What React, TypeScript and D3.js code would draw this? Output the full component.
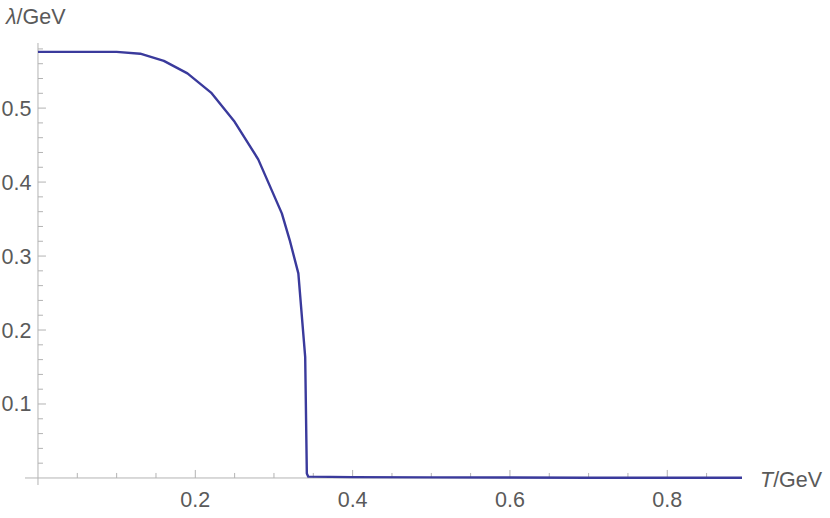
import React from "react";
import * as d3 from "d3";

const T_VALUES = [0, 0.1, 0.13, 0.16, 0.19, 0.22, 0.25, 0.28, 0.31, 0.32, 0.331, 0.3397, 0.3418, 0.3436, 0.4, 0.5, 0.6, 0.7, 0.8, 0.895];
const LAMBDA_VALUES = [0.576, 0.576, 0.5735, 0.5638, 0.547, 0.521, 0.4815, 0.4307, 0.3577, 0.3216, 0.2766, 0.1635, 0.006, 0.0018, 0.0012, 0.0008, 0.0006, 0.0004, 0.0003, 0.0002];
const X_MAJOR = [0.2, 0.4, 0.6, 0.8];
const Y_MAJOR = [0.1, 0.2, 0.3, 0.4, 0.5];
const X_DOMAIN = [-0.0165, 0.895];
const Y_DOMAIN = [-0.0095, 0.588];

const W = 830;
const H = 518;
const FONT = "'Liberation Sans', Arial, sans-serif";
const FS = 21.5;

export default function App() {
  const x = d3.scaleLinear().domain(X_DOMAIN).range([25, 742]);
  const y = d3.scaleLinear().domain(Y_DOMAIN).range([485, 43]);
  const x0 = x(0);
  const y0 = y(0);
  const data = T_VALUES.map((t, i) => [t, LAMBDA_VALUES[i]] as [number, number]);
  const line = d3.line<[number, number]>().x((d) => x(d[0])).y((d) => y(d[1]));
  const xMinor = d3.range(1, 18).map((i) => i * 0.05).filter((v) => !X_MAJOR.some((m) => Math.abs(m - v) < 1e-6));
  const yMinor = d3.range(1, 30).map((i) => i * 0.02).filter((v) => v <= Y_DOMAIN[1] && !Y_MAJOR.some((m) => Math.abs(m - v) < 1e-6));
  const axisColor = "#b3b3b3";
  const textColor = "#5a5a5a";
  return (
    <svg width={W} height={H} style={{ position: "absolute", left: 0, top: 0, background: "#fff" }}>
      <rect x={0} y={0} width={W} height={H} fill="#fff" />
      <line x1={x(X_DOMAIN[0])} x2={x(X_DOMAIN[1])} y1={y0} y2={y0} stroke={axisColor} strokeWidth={1} />
      <line x1={x0} x2={x0} y1={y(Y_DOMAIN[0])} y2={y(Y_DOMAIN[1])} stroke={axisColor} strokeWidth={1} />
      {X_MAJOR.map((v) => (
        <g key={"xm" + v}>
          <line x1={x(v)} x2={x(v)} y1={y0} y2={y0 - 8} stroke={axisColor} />
          <text x={x(v)} y={y0 + 29} textAnchor="middle" fontFamily={FONT} fontSize={FS} fill={textColor}>
            {v.toFixed(1)}
          </text>
        </g>
      ))}
      {xMinor.map((v) => (
        <line key={"xn" + v} x1={x(v)} x2={x(v)} y1={y0} y2={y0 - 5} stroke={axisColor} />
      ))}
      {Y_MAJOR.map((v) => (
        <g key={"ym" + v}>
          <line x1={x0} x2={x0 + 8} y1={y(v)} y2={y(v)} stroke={axisColor} />
          <text x={x0 - 6.5} y={y(v) + 7.5} textAnchor="end" fontFamily={FONT} fontSize={FS} fill={textColor}>
            {v.toFixed(1)}
          </text>
        </g>
      ))}
      {yMinor.map((v) => (
        <line key={"yn" + v} x1={x0} x2={x0 + 5} y1={y(v)} y2={y(v)} stroke={axisColor} />
      ))}
      <text x={6} y={24} fontFamily={FONT} fontSize={FS} fill={textColor}>
        <tspan fontStyle="italic">λ</tspan>/GeV
      </text>
      <text x={760} y={487} fontFamily={FONT} fontSize={FS} fill={textColor}>
        <tspan fontStyle="italic">T</tspan>/GeV
      </text>
      <path d={line(data) || ""} fill="none" stroke="#3a3a9c" strokeWidth={2.4} strokeLinejoin="round" />
    </svg>
  );
}
